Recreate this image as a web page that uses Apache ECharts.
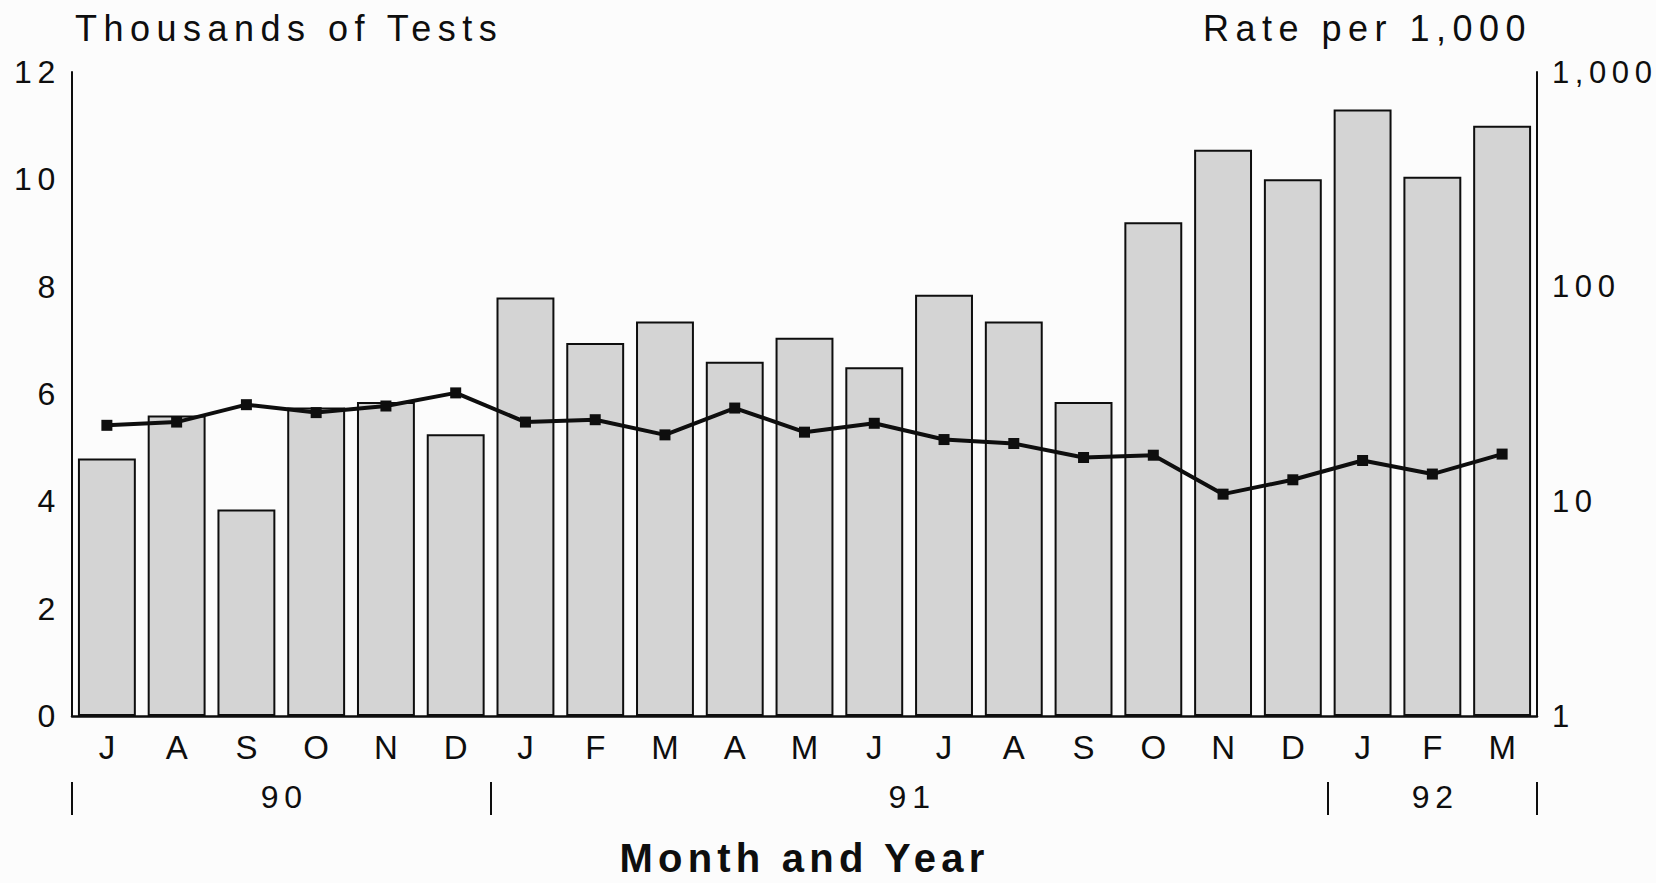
<!DOCTYPE html>
<html>
<head>
<meta charset="utf-8">
<script src="https://cdn.jsdelivr.net/npm/echarts@6/dist/echarts.min.js"></script>
<style>
  html, body { margin: 0; padding: 0; background: #fcfcfc; }
  #chart { width: 1656px; height: 883px; }
  #chart svg text { letter-spacing: 0.18em; }
  #chart svg text[style*="bold"], #chart svg text[font-weight="bold"] { letter-spacing: 0.13em; }
</style>
</head>
<body>
<div id="chart"></div>
<script>
// ---- data ----
const months = ['J','A','S','O','N','D','J','F','M','A','M','J','J','A','S','O','N','D','J','F','M'];
const tests  = [4.8, 5.6, 3.85, 5.75, 5.85, 5.25, 7.8, 6.95, 7.35, 6.6, 7.05, 6.5, 7.85, 7.35, 5.85, 9.2, 10.55, 10.0, 11.3, 10.05, 11.0];
const rates  = [22.6, 23.4, 28.2, 25.9, 27.8, 32.0, 23.4, 24.0, 20.4, 27.2, 21.0, 23.1, 19.4, 18.6, 16.0, 16.4, 10.8, 12.6, 15.5, 13.4, 16.6];
const years  = ['90', '91', '92'];
const yearSpans = [6, 12, 3];
const leftTicks = [0, 2, 4, 6, 8, 10, 12];
const rightTicks = [1, 10, 100, 1000];

// year boundaries and centres (in category units) derived from spans
const yearBounds = [0];
yearSpans.forEach(s => yearBounds.push(yearBounds[yearBounds.length - 1] + s));
const yearCenters = years.map((y, i) => (yearBounds[i] + yearBounds[i + 1]) / 2);

const FONT = 'Liberation Sans';
const INK = '#0e0e0e';

const chart = echarts.init(document.getElementById('chart'), null, { renderer: 'svg' });
chart.setOption({
  backgroundColor: '#fcfcfc',
  animation: false,
  title: [
    { text: 'Thousands of Tests', left: 70, top: 5,
      textStyle: { fontFamily: FONT, fontSize: 36, fontWeight: 'normal', color: INK } },
    { text: 'Rate per 1,000', left: 1198, top: 5,
      textStyle: { fontFamily: FONT, fontSize: 36, fontWeight: 'normal', color: INK } }
  ],
  grid: { left: 72, right: 119, top: 72, bottom: 166, containLabel: false },
  xAxis: [
    {
      type: 'category', data: months, boundaryGap: true,
      axisLine: { lineStyle: { color: INK, width: 2.5 } },
      axisTick: { show: false },
      axisLabel: { interval: 0, margin: 15, padding: [0, 0, 0, 6], fontFamily: FONT, fontSize: 33, color: INK },
      name: 'Month and Year', nameLocation: 'middle', nameGap: 122,
      nameTextStyle: { fontFamily: FONT, fontSize: 40, fontWeight: 'bold', color: INK }
    },
    {
      type: 'value', min: 0, max: months.length, position: 'bottom', offset: 66,
      axisLine: { show: false },
      splitLine: { show: false },
      axisTick: { show: true, customValues: yearBounds, length: 33, lineStyle: { color: INK, width: 2 } },
      axisLabel: {
        customValues: yearCenters, margin: 15, verticalAlign: 'middle',
        padding: [0, 0, 0, 6],
        fontFamily: FONT, fontSize: 32, color: INK,
        formatter: v => { const i = yearCenters.indexOf(v); return i >= 0 ? years[i] : ''; }
      }
    }
  ],
  yAxis: [
    {
      type: 'value', min: leftTicks[0], max: leftTicks[leftTicks.length - 1], interval: 2,
      position: 'left',
      axisLine: { show: true, lineStyle: { color: INK, width: 2 } },
      axisTick: { show: false },
      splitLine: { show: false },
      axisLabel: { margin: 11, fontFamily: FONT, fontSize: 32, color: INK }
    },
    {
      type: 'log', logBase: 10, min: rightTicks[0], max: rightTicks[rightTicks.length - 1],
      position: 'right',
      axisLine: { show: true, lineStyle: { color: INK, width: 2 } },
      axisTick: { show: false },
      splitLine: { show: false },
      axisLabel: { margin: 15, fontFamily: FONT, fontSize: 31, color: INK,
        formatter: v => Number(v).toLocaleString('en-US') }
    }
  ],
  series: [
    {
      type: 'bar', data: tests, xAxisIndex: 0, yAxisIndex: 0,
      barCategoryGap: '17%',
      itemStyle: { color: '#d4d4d4', borderColor: INK, borderWidth: 2 },
      z: 2
    },
    {
      type: 'line', data: rates, xAxisIndex: 0, yAxisIndex: 1,
      symbol: 'rect', symbolSize: 11,
      lineStyle: { color: INK, width: 4 },
      itemStyle: { color: INK },
      z: 5
    }
  ]
});
</script>
</body>
</html>
